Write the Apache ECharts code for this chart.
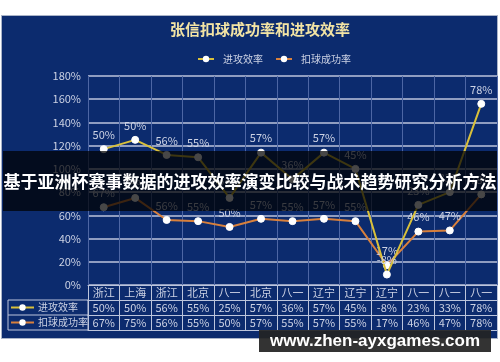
<!DOCTYPE html>
<html><head><meta charset="utf-8">
<script src="https://cdn.jsdelivr.net/npm/echarts@6/dist/echarts.min.js"></script>
<style>
body{margin:0;background:#fff;}
#frame{position:absolute;left:1px;top:15px;width:495px;height:322px;background:#0c2b6e;border:1px solid #aab4c8;}
#chart{position:absolute;left:0;top:0;width:500px;height:362px;}
#banner{position:absolute;left:3px;top:151px;width:494px;height:60px;background:rgba(0,0,0,0.72);color:#fff;font:bold 17px "Noto Sans CJK SC";line-height:60px;text-align:center;white-space:nowrap;overflow:hidden;}
#wm{position:absolute;left:259px;top:330px;width:232px;height:22px;background:rgba(35,35,35,0.93);color:#fff;font:bold 17px "Liberation Sans";line-height:22px;text-align:center;white-space:nowrap;}
</style></head>
<body>
<div id="frame"></div>
<div id="chart"></div>
<div id="banner">基于亚洲杯赛事数据的进攻效率演变比较与战术趋势研究分析方法</div>
<div id="wm">www.zhen-ayxgames.com</div>
<script>
const titleText = '张信扣球成功率和进攻效率';
const seriesNames = ['进攻效率', '扣球成功率'];
const categories = ['浙江','上海','浙江','北京','八一','北京','八一','辽宁','辽宁','辽宁','八一','八一','八一'];
const attackEff = [50,50,56,55,25,57,36,57,45,-8,23,33,78];
const spikeRate = [67,75,56,55,50,57,55,57,55,17,46,47,78];
const yTicks = {min:0, max:180, interval:20};

const FONT = 'Noto Sans CJK SC';
const GRID_LINE = '#bcc5dc';
const TXT = '#ccd2e4';
const YELLOW = '#d9c03a';
const ORANGE = '#d8803c';

function tableAxis(data, offset, showLabel, showTick) {
  return {
    type:'category', data:data, position:'bottom', offset:offset, boundaryGap:true,
    axisLine:{show:true, lineStyle:{color:GRID_LINE, width:1}},
    axisTick:{show:showTick, interval:0, length:15, alignWithLabel:false, lineStyle:{color:GRID_LINE}},
    axisLabel:{show:showLabel, interval:0, color:TXT, fontSize:11, fontFamily:FONT, margin:2},
    splitLine:{show:false}
  };
}
const pct = v => v + '%';

const chart = echarts.init(document.getElementById('chart'), null, {renderer:'canvas'});
const option = {
  backgroundColor:'transparent',
  animation:false,
  title:{text:titleText, left:170, top:22, padding:0,
    textStyle:{color:'#f3e4a4', fontSize:15, fontWeight:'bold', fontFamily:FONT}},
  legend:{data:seriesNames, left:192, top:49, itemWidth:16, itemHeight:8, itemGap:12,
    textStyle:{color:TXT, fontSize:10, fontFamily:FONT, padding:[0,0,0,4]}},
  grid:{left:88, right:3, top:76, bottom:77, containLabel:false},
  xAxis:[
    Object.assign(tableAxis(categories, 0, true, true), {
      splitLine:{show:true, interval:0, lineStyle:{color:'#4d66a4', width:1}}
    }),
    tableAxis(attackEff.map(pct), 15, true, true),
    tableAxis(spikeRate.map(pct), 30, true, true),
    tableAxis(categories, 45, false, false)
  ],
  yAxis:{type:'value', min:yTicks.min, max:yTicks.max, interval:yTicks.interval,
    axisLine:{show:false}, axisTick:{show:false},
    axisLabel:{formatter:'{value}%', color:TXT, fontSize:11, fontFamily:FONT, margin:7},
    splitLine:{lineStyle:{color:GRID_LINE, width:1.5}}},
  series:[
    {name:seriesNames[1], type:'line', data:spikeRate, stack:'s', stackStrategy:'all',
      xAxisIndex:0, symbol:'circle', symbolSize:7, showAllSymbol:true,
      lineStyle:{color:ORANGE, width:2}, itemStyle:{color:'#fff', borderColor:'#fff'},
      label:{show:true, position:'top', distance:5, color:TXT, fontSize:11, fontFamily:FONT, formatter:p=>p.value+'%'},
      z:3},
    {name:seriesNames[0], type:'line', data:attackEff, stack:'s', stackStrategy:'all',
      xAxisIndex:0, symbol:'circle', symbolSize:7, showAllSymbol:true,
      lineStyle:{color:YELLOW, width:2}, itemStyle:{color:'#fff', borderColor:'#fff'},
      label:{show:true, position:'top', distance:5, color:TXT, fontSize:11, fontFamily:FONT, formatter:p=>p.value+'%'},
      z:4}
  ],
  graphic:[
    {type:'rect', shape:{x:8, y:300, width:80, height:30}, style:{fill:'none', stroke:GRID_LINE, lineWidth:1}},
    {type:'line', shape:{x1:8, y1:315, x2:88, y2:315}, style:{stroke:GRID_LINE, lineWidth:1}},
    {type:'line', shape:{x1:11, y1:307.5, x2:34, y2:307.5}, style:{stroke:YELLOW, lineWidth:2}},
    {type:'circle', shape:{cx:22.5, cy:307.5, r:3.2}, style:{fill:'#fff'}},
    {type:'text', x:38, y:307.5, style:{text:seriesNames[0], fill:TXT, fontSize:10, fontFamily:FONT, verticalAlign:'middle'}},
    {type:'line', shape:{x1:11, y1:322.5, x2:34, y2:322.5}, style:{stroke:ORANGE, lineWidth:2}},
    {type:'circle', shape:{cx:22.5, cy:322.5, r:3.2}, style:{fill:'#fff'}},
    {type:'text', x:38, y:322.5, style:{text:seriesNames[1], fill:TXT, fontSize:10, fontFamily:FONT, verticalAlign:'middle'}}
  ]
};
chart.setOption(option);
</script>
</body></html>
